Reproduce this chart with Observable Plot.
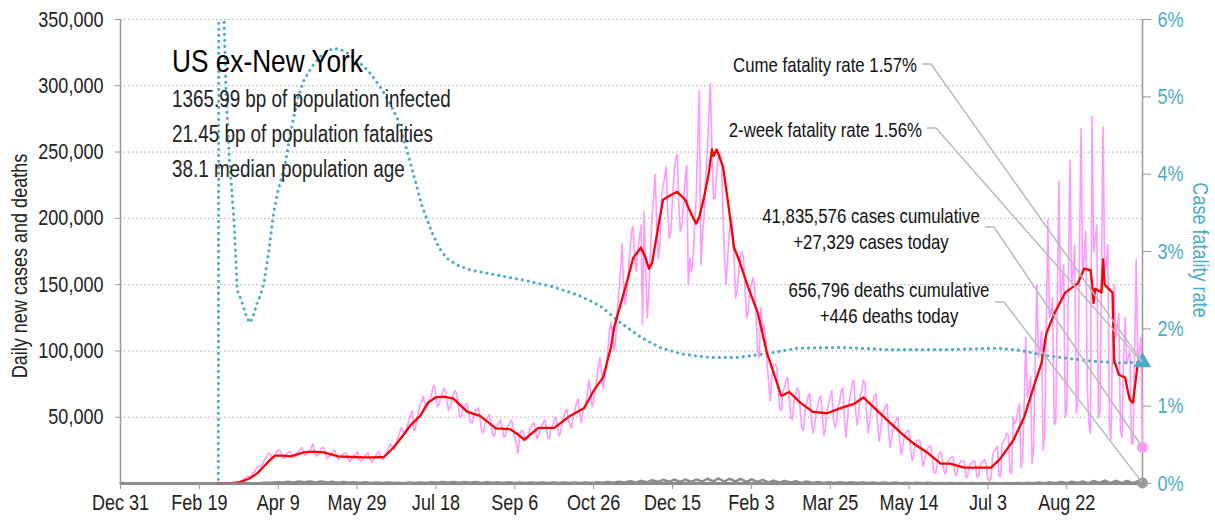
<!DOCTYPE html>
<html><head><meta charset="utf-8">
<script src="https://cdn.jsdelivr.net/npm/d3@7"></script>
<script src="https://cdn.jsdelivr.net/npm/@observablehq/plot@0.6"></script>
<style>
body{margin:0;background:#fff;}
#chart{position:relative;width:1215px;height:525px;}
</style></head><body><div id="chart"></div>
<script>
// ---------- data ----------
const xTickDays = [0, 50, 100, 150, 200, 250, 300, 350, 400, 450, 500, 550, 600];
const xTickLabels = ["Dec 31","Feb 19","Apr 9","May 29","Jul 18","Sep 6","Oct 26","Dec 15","Feb 3","Mar 25","May 14","Jul 3","Aug 22"];
const yTicks = [50000, 100000, 150000, 200000, 250000, 300000, 350000];
const pctTicks = [0, 1, 2, 3, 4, 5, 6];

// daily new cases (thousands), one row per week starting Sunday Mar 1 2020 (day 61)
const casesDaily = [
0,0,0.1,0.1,0.1,0.2,0.2,
0.2,0.3,0.4,0.5,0.6,0.8,1.0,
1.2,1.5,2,3,4,5,5.5,
5,6,8,9,11,13,13,
13,15,17,19,21,23,22,
20,19,22,24,25,25,23,
19,19,22,23,24,23,21,
20,20,23,24,26,27,23,
21,22,24,25,27,30,24,
21,21,23,26,27,27,22,
19,20,21,23,24,25,21,
18,19,21,22,23,23,20,
17,17,20,21,22,24,21,
17,17,19,21,22,23,20,
16,17,19,21,23,24,21,
18,19,22,24,27,30,28,
26,27,31,35,38,42,40,
37,39,44,48,52,55,40,
42,48,55,60,62,66,60,
57,60,64,66,72,74,66,
58,60,64,68,72,70,62,
55,58,62,68,70,68,60,
50,50,55,58,60,60,52,
46,46,50,56,55,57,48,
40,38,44,48,50,52,44,
36,36,42,44,46,48,42,
35,36,42,44,46,48,42,
34,30,23,35,40,40,36,
33,34,38,42,44,46,40,
34,36,40,44,46,48,42,
34,34,42,44,48,50,44,
36,38,46,50,54,56,48,
44,42,50,55,60,64,54,
46,52,58,60,68,78,70,
58,62,72,78,88,95,84,
72,80,88,100,115,122,110,
100,110,130,145,160,181,150,
135,145,160,175,190,194,170,
160,175,185,195,120,205,160,
125,145,175,200,215,233,195,
170,180,215,225,230,239,205,
185,190,215,235,245,248,210,
190,195,210,230,240,150,170,
160,170,195,215,258,296,165,
190,200,230,250,275,302,250,
215,215,235,245,250,244,205,
170,150,170,190,200,195,170,
140,145,160,170,175,170,145,
125,130,145,150,155,150,125,
100,95,133,115,120,110,90,
75,62,80,90,90,88,72,
56,55,70,72,78,80,65,
50,48,62,66,72,70,55,
42,40,55,60,66,68,50,
38,42,54,58,64,66,52,
36,42,54,60,66,70,50,
42,46,58,62,70,72,48,
35,50,62,68,76,78,55,
44,52,66,70,78,76,54,
38,46,58,62,66,68,46,
32,40,52,56,58,60,40,
27,34,44,46,48,50,32,
22,28,36,38,40,40,26,
17,22,30,32,33,32,20,
13,18,24,27,28,28,14,
8,8,16,22,24,20,10,
7,13,17,19,20,20,8,
6,12,15,17,17,17,5,
5,12,15,16,17,16,5,
5,13,16,17,18,14,3,
2,4,22,24,26,28,6,
5,30,32,34,38,36,8,
8,50,45,48,55,60,12,
20,60,110,65,72,80,15,
28,95,150,95,100,115,25,
40,120,199,125,130,140,45,
45,140,228,140,150,165,50,
55,150,244,150,160,180,53,
60,170,268,160,170,190,73,
45,38,277,175,185,195,50,
54,160,269,160,165,180,45,
33,110,150,110,118,128,40,
35,95,125,90,95,100,30,
30,100,169,90,100,110,27.329
];

// 7-day average of new cases (thousands): [day since Dec 31 2019, value]
const casesAvg = [
[61,0],[67,0],[70,0.3],[76,1],[82,4],[87,8],[91,13],[95,18],[98,21],[103,21],[108,20.5],[116,23.5],
[122,24],[129,23.5],[138,20.5],[146,20],[154,19.7],[160,19.7],[167,20],[173,27],[179,36],[184,44],
[190,51],[195,61],[200,65],[205,65.5],[211,64],[220,54],[228,51],[238,41.6],[247,41],[252,37],
[256,33],[260,37],[265,42],[275,42],[285,51],[294,57],[300,70],[306,80],[311,103],[313,118],
[322,156],[325,170],[330,178],[333,170],[335,162],[337,166],[341,194],[344,214],[348,217],[353,220],
[358,214],[362,203],[365,196],[367,201],[370,216],[373,234],[375,252],[376,247],[378,252],[382,239],
[385,214],[389,178],[392,169],[398,148],[404,129],[410,98],[412,91],[419,66],[424,69],[431,61],
[439,54],[448,53],[457,57],[465,60],[471,65],[478,57],[486,48],[495,38],[503,30],[512,23],[520,15],
[526,15],[535,12],[545,12],[552,12],[558,19],[566,32.5],[573,50],[579,73],[584,91],[587,113],
[592,128],[599,144],[607,151],[611,162],[615,161],[616,152],[617,136],[618,147],[622,144],
[623,169],[624,150],[629,144],[630,93],[633,82],[637,80],[639,68],[640,63],[642,61],[645,91],[648,93]
];

// daily deaths: weekly low (Sunday) and high (Wednesday), week 0 = Mar 1 2020
const deathsLow = [0,0,5,50,300,600,700,800,900,800,700,600,500,400,350,300,300,250,300,400,500,500,500,500,450,400,400,350,350,350,350,350,350,400,450,500,550,700,800,900,1200,1300,1200,1200,1500,1600,1500,1500,1300,1100,900,800,700,500,450,400,350,300,300,300,250,250,200,200,150,100,100,100,80,80,50,60,80,100,150,200,250,300,350,300,400,400,350,300];
const deathsHigh = [0,2,20,150,500,1000,1300,1500,1600,1500,1300,1200,1000,900,800,700,650,700,850,1000,1150,1200,1150,1100,1050,1000,900,800,850,850,850,800,850,850,950,1100,1300,1700,2000,2500,2800,3000,3000,3000,3600,3800,3600,3500,3200,2800,2200,2000,1800,1500,1200,1000,900,900,850,800,750,700,650,550,500,400,450,400,350,300,300,350,400,550,700,1000,1200,1400,1600,1900,2200,2000,1900,1700];

// cumulative case fatality rate (%): [day, pct]
const cfr = [
[0,0],[62,0],[63,20],[64,10],[65,6.5],[67,5],[69,4.2],[72,3.4],[74,2.5],[76,2.4],[78,2.28],[80,2.15],
[82,2.08],[84,2.15],[86,2.3],[89,2.45],[91,2.6],[94,3.0],[97,3.49],[100,3.8],[104,4.09],[108,4.55],
[112,4.95],[116,5.2],[121,5.38],[128,5.55],[135,5.63],[141,5.6],[146,5.54],[151,5.45],[157,5.34],
[164,5.15],[170,4.95],[176,4.7],[181,4.35],[186,3.98],[191,3.6],[197,3.27],[202,3.05],[207,2.91],
[214,2.82],[222,2.76],[240,2.69],[258,2.62],[275,2.54],[291,2.43],[304,2.3],[317,2.08],[330,1.89],
[342,1.76],[355,1.68],[365,1.65],[374,1.63],[391,1.63],[410,1.68],[429,1.75],[457,1.76],[488,1.73],
[520,1.73],[556,1.75],[571,1.72],[585,1.66],[600,1.62],[617,1.58],[632,1.56],[640,1.565],[648,1.57]
];

// summary figures
const lastDay = 648;
const cumeCfr = 1.57, twoWeekCfr = 1.56;
const casesCumulative = 41835576, casesToday = 27329;
const deathsCumulative = 656796, deathsToday = 446;
const titleText = "US ex-New York";
const subtitleLines = ["1365.99 bp of population infected", "21.45 bp of population fatalities", "38.1 median population age"];

// ---------- build ----------
const FONT = '"Liberation Sans", Arial, sans-serif';
const SQUEEZE = 0.82;
const TEAL = "#4bacc6";
const PINK = "#ff99ff";
const YMAX = 350000, PMAX = 6;
const T0 = Date.UTC(2019, 11, 31);
const day = d => new Date(T0 + d * 864e5);
const toY = p => p / PMAX * YMAX;

const pinkRows = casesDaily.map((v, i) => ({date: day(61 + i), v: v * 1000}));
const redRows = casesAvg.map(([d, v]) => ({date: day(d), v: v * 1000}));
const deathRows = [{date: day(0), v: 0}];
deathsLow.forEach((lo, w) => {
  deathRows.push({date: day(61 + 7 * w), v: lo});
  deathRows.push({date: day(61 + 7 * w + 3), v: deathsHigh[w]});
});
deathRows.push({date: day(lastDay), v: deathsToday});
const cfrRows = cfr.map(([d, p]) => ({date: day(d), v: toY(p)}));
const xTicks = xTickDays.map(day);
const xLabel = new Map(xTicks.map((d, i) => [+d, xTickLabels[i]]));

const plot = Plot.plot({
  width: 1215, height: 525,
  marginLeft: 120, marginRight: 73, marginTop: 19, marginBottom: 42,
  style: {fontFamily: FONT, fontSize: "22px", color: "#222", background: "white", overflow: "visible"},
  x: {type: "utc", domain: [day(0), day(lastDay)]},
  y: {domain: [0, YMAX]},
  marks: [
    Plot.gridY(yTicks, {stroke: "#aaa", strokeOpacity: 1, strokeDasharray: "1.5,2.5", strokeWidth: 1}),
    Plot.ruleX([day(0)], {stroke: "#999", strokeWidth: 1.5}),
    Plot.ruleX([day(lastDay)], {stroke: "#999", strokeWidth: 1.5}),
    Plot.ruleY([0], {stroke: "#8c8c8c", strokeWidth: 3}),
    Plot.lineY(pinkRows, {x: "date", y: "v", stroke: PINK, strokeWidth: 1.6}),
    Plot.lineY(cfrRows, {x: "date", y: "v", stroke: TEAL, strokeWidth: 3.2, strokeDasharray: "0,6", strokeLinecap: "round", clip: true}),
    Plot.lineY(redRows, {x: "date", y: "v", stroke: "#ff0000", strokeWidth: 2.3}),
    Plot.lineY(deathRows, {x: "date", y: "v", stroke: "#8c8c8c", strokeWidth: 2.5}),
    Plot.axisX(xTicks, {tickFormat: d => xLabel.get(+d), tickSize: 6, tickPadding: 5, stroke: "#999", fill: "#222", label: null}),
    Plot.axisY(yTicks, {tickFormat: d3.format(","), tickSize: 5, tickPadding: 12, stroke: "#999", fill: "#222", label: null}),
    Plot.axisY(pctTicks.map(toY), {anchor: "right", tickFormat: v => Math.round(v / YMAX * PMAX) + "%", tickSize: 8, tickPadding: 7, stroke: "#999", fill: TEAL, label: null}),
    Plot.dot([{date: day(lastDay), v: toY(cumeCfr)}], {x: "date", y: "v", symbol: "triangle", r: 6.5, fill: TEAL}),
    Plot.dot([{date: day(lastDay), v: casesToday}], {x: "date", y: "v", r: 5.5, fill: PINK}),
    Plot.dot([{date: day(lastDay), v: deathsToday}], {x: "date", y: "v", r: 5.5, fill: "#9a9a9a"})
  ]
});
document.getElementById("chart").appendChild(plot);

// ---------- annotations ----------
const svg = d3.select(plot);
const sx = plot.scale("x"), sy = plot.scale("y");
const fmt = d3.format(",");
const g = svg.append("g").attr("font-family", FONT);
function txt(x, y, s, size, anchor, color, rot) {
  const t = g.append("text").attr("font-size", size)
    .attr("text-anchor", anchor).attr("fill", color).text(s);
  if (rot) t.attr("transform", `translate(${x},${y}) rotate(${rot})`).attr("dy", "0.35em");
  else t.attr("transform", `translate(${x},${y})`);
  return t;
}
txt(172, 72, titleText, 32, "start", "#000");
subtitleLines.forEach((s, i) => txt(172, 107 + 35 * i, s, 23, "start", "#222"));
txt(19, 266, "Daily new cases and deaths", 22, "middle", "#222", -90);
txt(1201, 250, "Case fatality rate", 22, "middle", TEAL, 90);

const ex = sx.apply(day(lastDay));
const leaders = [
  {lines: [`Cume fatality rate ${cumeCfr.toFixed(2)}%`], tx: 917, ty: 72, anchor: "end", lx: 922, ly: 64, ty2: sy.apply(toY(cumeCfr))},
  {lines: [`2-week fatality rate ${twoWeekCfr.toFixed(2)}%`], tx: 922, ty: 137, anchor: "end", lx: 927, ly: 128, ty2: sy.apply(toY(twoWeekCfr))},
  {lines: [`${fmt(casesCumulative)} cases cumulative`, `+${fmt(casesToday)} cases today`], tx: 871, ty: 223, anchor: "middle", lx: 985, ly: 227, ty2: sy.apply(casesToday)},
  {lines: [`${fmt(deathsCumulative)} deaths cumulative`, `+${fmt(deathsToday)} deaths today`], tx: 889, ty: 297, anchor: "middle", lx: 995, ly: 302, ty2: sy.apply(deathsToday)}
];
leaders.forEach(L => {
  g.append("polyline").attr("points", `${L.lx},${L.ly} ${L.lx + 9},${L.ly} ${ex},${L.ty2}`)
    .attr("fill", "none").attr("stroke", "#bbb").attr("stroke-width", 1.5);
  L.lines.forEach((s, i) => txt(L.tx, L.ty + 25.5 * i, s, 20.5, L.anchor, "#111"));
});

// condense every text horizontally around its anchor (narrow typeface look)
svg.selectAll("text").each(function() {
  const x = +this.getAttribute("x") || 0, y = +this.getAttribute("y") || 0;
  const t = this.getAttribute("transform") || "";
  this.setAttribute("transform", `${t} translate(${x},${y}) scale(${SQUEEZE},1) translate(${-x},${-y})`);
});
</script>
</body></html>
